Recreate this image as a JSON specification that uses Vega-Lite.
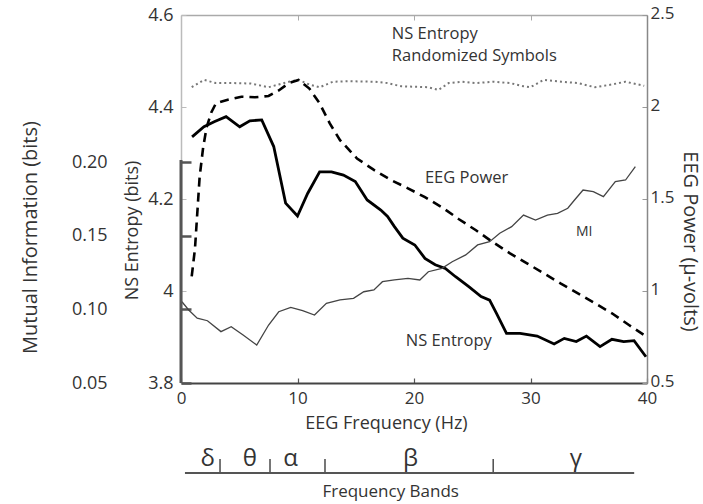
{
  "$schema": "https://vega.github.io/schema/vega-lite/v6.json",
  "width": 466,
  "height": 368,
  "autosize": "none",
  "padding": {"left": 181, "top": 15, "right": 56, "bottom": 121},
  "config": {
    "font": "Open Sans",
    "view": {"stroke": null},
    "axis": {"grid": false, "labelFont": "Open Sans", "titleFont": "Open Sans", "labelColor": "#333", "titleColor": "#333", "titleFontWeight": "normal", "labelFontSize": 18, "titleFontSize": 18, "labelFlush": false, "labelOverlap": false}
  },
  "datasets": {
    "ns": [
      {"f": 0.95, "v": 4.335}, {"f": 1.97, "v": 4.357}, {"f": 2.85, "v": 4.368}, {"f": 3.87, "v": 4.379}, {"f": 5.04, "v": 4.357}, {"f": 5.91, "v": 4.37}, {"f": 6.93, "v": 4.372}, {"f": 7.96, "v": 4.314}, {"f": 8.98, "v": 4.191}, {"f": 10.0, "v": 4.163}, {"f": 10.87, "v": 4.212}, {"f": 11.9, "v": 4.259}, {"f": 12.92, "v": 4.259}, {"f": 13.94, "v": 4.252}, {"f": 14.96, "v": 4.238}, {"f": 15.98, "v": 4.198}, {"f": 17.15, "v": 4.176}, {"f": 17.73, "v": 4.162}, {"f": 18.32, "v": 4.14}, {"f": 19.04, "v": 4.115}, {"f": 20.07, "v": 4.1}, {"f": 20.94, "v": 4.071}, {"f": 21.82, "v": 4.057}, {"f": 22.69, "v": 4.049}, {"f": 23.57, "v": 4.031}, {"f": 24.73, "v": 4.009}, {"f": 25.76, "v": 3.988}, {"f": 26.49, "v": 3.98}, {"f": 27.07, "v": 3.952}, {"f": 27.94, "v": 3.908}, {"f": 29.11, "v": 3.908}, {"f": 30.57, "v": 3.902}, {"f": 32.03, "v": 3.885}, {"f": 32.9, "v": 3.897}, {"f": 33.93, "v": 3.89}, {"f": 34.8, "v": 3.902}, {"f": 35.97, "v": 3.879}, {"f": 36.99, "v": 3.895}, {"f": 38.0, "v": 3.89}, {"f": 38.89, "v": 3.892}, {"f": 39.91, "v": 3.857}
    ],
    "rand": [
      {"f": 0.92, "v": 4.443}, {"f": 1.97, "v": 4.459}, {"f": 2.99, "v": 4.452}, {"f": 4.5, "v": 4.452}, {"f": 6.0, "v": 4.451}, {"f": 7.52, "v": 4.443}, {"f": 8.4, "v": 4.449}, {"f": 9.27, "v": 4.455}, {"f": 10.09, "v": 4.459}, {"f": 11.0, "v": 4.449}, {"f": 11.9, "v": 4.443}, {"f": 13.06, "v": 4.455}, {"f": 14.5, "v": 4.456}, {"f": 16.56, "v": 4.455}, {"f": 17.73, "v": 4.452}, {"f": 18.9, "v": 4.445}, {"f": 20.1, "v": 4.444}, {"f": 21.23, "v": 4.443}, {"f": 22.1, "v": 4.437}, {"f": 22.98, "v": 4.452}, {"f": 24.15, "v": 4.455}, {"f": 25.32, "v": 4.452}, {"f": 26.78, "v": 4.455}, {"f": 28.24, "v": 4.452}, {"f": 29.4, "v": 4.445}, {"f": 29.99, "v": 4.443}, {"f": 31.15, "v": 4.459}, {"f": 32.61, "v": 4.455}, {"f": 34.07, "v": 4.452}, {"f": 35.53, "v": 4.443}, {"f": 36.99, "v": 4.449}, {"f": 38.16, "v": 4.455}, {"f": 39.76, "v": 4.446}
    ],
    "power": [
      {"f": 0.92, "p": 1.08}, {"f": 1.2, "p": 1.23}, {"f": 1.6, "p": 1.62}, {"f": 1.9, "p": 1.78}, {"f": 2.2, "p": 1.89}, {"f": 2.6, "p": 1.97}, {"f": 3.0, "p": 2.02}, {"f": 4.02, "p": 2.04}, {"f": 5.18, "p": 2.056}, {"f": 6.35, "p": 2.053}, {"f": 7.52, "p": 2.06}, {"f": 8.39, "p": 2.09}, {"f": 9.27, "p": 2.13}, {"f": 10.09, "p": 2.147}, {"f": 11.02, "p": 2.1}, {"f": 11.9, "p": 2.02}, {"f": 12.77, "p": 1.911}, {"f": 13.65, "p": 1.82}, {"f": 15.11, "p": 1.72}, {"f": 16.56, "p": 1.658}, {"f": 18.02, "p": 1.603}, {"f": 19.48, "p": 1.558}, {"f": 20.94, "p": 1.51}, {"f": 22.4, "p": 1.455}, {"f": 23.86, "p": 1.39}, {"f": 25.32, "p": 1.33}, {"f": 26.78, "p": 1.265}, {"f": 28.24, "p": 1.205}, {"f": 29.7, "p": 1.15}, {"f": 31.15, "p": 1.096}, {"f": 32.61, "p": 1.04}, {"f": 34.07, "p": 0.987}, {"f": 35.53, "p": 0.933}, {"f": 36.99, "p": 0.879}, {"f": 38.45, "p": 0.815}, {"f": 39.76, "p": 0.76}
    ],
    "mi": [
      {"f": 0.08, "mi": 0.1052}, {"f": 0.66, "mi": 0.0996}, {"f": 1.39, "mi": 0.094}, {"f": 2.27, "mi": 0.0923}, {"f": 3.43, "mi": 0.0849}, {"f": 4.31, "mi": 0.0882}, {"f": 5.33, "mi": 0.0826}, {"f": 6.5, "mi": 0.0758}, {"f": 7.52, "mi": 0.0894}, {"f": 8.39, "mi": 0.0984}, {"f": 9.42, "mi": 0.1014}, {"f": 10.44, "mi": 0.0991}, {"f": 11.46, "mi": 0.0962}, {"f": 12.48, "mi": 0.1041}, {"f": 13.65, "mi": 0.1064}, {"f": 14.81, "mi": 0.1075}, {"f": 15.69, "mi": 0.112}, {"f": 16.56, "mi": 0.1132}, {"f": 17.29, "mi": 0.1188}, {"f": 18.32, "mi": 0.12}, {"f": 19.48, "mi": 0.1211}, {"f": 20.5, "mi": 0.12}, {"f": 21.23, "mi": 0.1256}, {"f": 22.4, "mi": 0.1279}, {"f": 23.28, "mi": 0.1324}, {"f": 24.44, "mi": 0.137}, {"f": 25.46, "mi": 0.1438}, {"f": 26.49, "mi": 0.146}, {"f": 27.36, "mi": 0.1517}, {"f": 28.38, "mi": 0.1562}, {"f": 29.4, "mi": 0.1641}, {"f": 30.43, "mi": 0.1607}, {"f": 31.45, "mi": 0.1641}, {"f": 32.32, "mi": 0.1653}, {"f": 33.2, "mi": 0.1687}, {"f": 33.78, "mi": 0.1743}, {"f": 34.51, "mi": 0.1811}, {"f": 35.39, "mi": 0.18}, {"f": 36.26, "mi": 0.1766}, {"f": 37.28, "mi": 0.1868}, {"f": 38.16, "mi": 0.1879}, {"f": 39.0, "mi": 0.197}
    ],
    "notes": [
      {"label": "EEG Power", "f": 20.94, "v": 4.235},
      {"label": "NS Entropy", "f": 19.3, "v": 3.88}
    ],
    "bands": [
      {"band": "δ", "mid": 2.3, "end": 3.35},
      {"band": "θ", "mid": 5.9, "end": 7.64},
      {"band": "α", "mid": 9.4, "end": 12.36},
      {"band": "β", "mid": 19.7, "end": 26.8},
      {"band": "γ", "mid": 33.9, "end": null}
    ]
  },
  "layer": [
    {
      "layer": [
        {
          "data": {"name": "rand"},
          "mark": {"type": "line", "color": "#777", "strokeWidth": 2, "strokeDash": [2, 3]},
          "encoding": {
            "x": {"field": "f", "type": "quantitative", "scale": {"domain": [0, 40], "nice": false},
              "axis": {"orient": "bottom", "values": [0, 10, 20, 30, 40], "labelFontSize": 17, "title": "EEG Frequency (Hz)", "titleX": 205, "titleY": 45, "titleBaseline": "alphabetic", "tickSize": -5, "labelPadding": 12, "domainColor": "#444", "domainWidth": 2, "tickColor": "#555", "tickWidth": 1.2}},
            "y": {"field": "v", "type": "quantitative", "scale": {"domain": [3.8, 4.6], "nice": false, "zero": false},
              "axis": {"orient": "left", "values": [3.8, 4, 4.2, 4.4, 4.6], "format": "~g", "title": "NS Entropy (bits)", "titleX": -49, "titleY": 215, "titleBaseline": "middle", "tickSize": -5, "labelPadding": 13, "domainColor": "#bbb", "domainWidth": 1.5, "tickColor": "#bbb"}}
          }
        },
        {
          "data": {"name": "ns"},
          "mark": {"type": "line", "color": "#000", "strokeWidth": 2.8},
          "encoding": {
            "x": {"field": "f", "type": "quantitative", "scale": {"domain": [0, 40], "nice": false}},
            "y": {"field": "v", "type": "quantitative"}
          }
        },
        {
          "data": {"name": "notes"},
          "mark": {"type": "text", "align": "left", "baseline": "alphabetic", "fontSize": 16.5, "color": "#333"},
          "encoding": {
            "x": {"field": "f", "type": "quantitative", "scale": {"domain": [0, 40], "nice": false}},
            "y": {"field": "v", "type": "quantitative"},
            "text": {"field": "label"}
          }
        },
        {
          "data": {"values": [{"label": "NS Entropy\nRandomized Symbols", "f": 18.1, "v": 4.547}]},
          "mark": {"type": "text", "align": "left", "baseline": "alphabetic", "fontSize": 16.5, "lineHeight": 22, "lineBreak": "\n", "color": "#333"},
          "encoding": {
            "x": {"field": "f", "type": "quantitative", "scale": {"domain": [0, 40], "nice": false}},
            "y": {"field": "v", "type": "quantitative"},
            "text": {"field": "label"}
          }
        },
        {
          "data": {"values": [{"label": "MI", "f": 33.9, "v": 4.12}]},
          "mark": {"type": "text", "align": "left", "baseline": "alphabetic", "fontSize": 14, "color": "#333"},
          "encoding": {
            "x": {"field": "f", "type": "quantitative", "scale": {"domain": [0, 40], "nice": false}},
            "y": {"field": "v", "type": "quantitative"},
            "text": {"field": "label"}
          }
        }
      ]
    },
    {
      "data": {"name": "power"},
      "mark": {"type": "line", "color": "#000", "strokeWidth": 2.6, "strokeDash": [9, 6]},
      "encoding": {
        "x": {"field": "f", "type": "quantitative", "scale": {"domain": [0, 40], "nice": false},
          "axis": {"orient": "top", "values": [10, 20, 30], "labels": false, "title": null, "tickSize": -5, "domainColor": "#aaa", "domainWidth": 1.5, "tickColor": "#aaa"}},
        "y": {"field": "p", "type": "quantitative", "scale": {"domain": [0.5, 2.5], "nice": false, "zero": false},
          "axis": {"orient": "right", "values": [0.5, 1, 1.5, 2, 2.5], "format": "~g", "labelFontSize": 17, "labelOffset": -2, "title": "EEG Power (µ-volts)", "titleFontSize": 20, "titleX": 42, "titleY": 226, "titleBaseline": "middle", "tickSize": -5, "labelPadding": 8, "domainColor": "#888", "domainWidth": 1.5, "tickColor": "#999"}}
      }
    },
    {
      "layer": [
        {
          "data": {"name": "mi"},
          "mark": {"type": "line", "color": "#444", "strokeWidth": 1.3},
          "encoding": {
            "x": {"field": "f", "type": "quantitative", "scale": {"domain": [0, 40], "nice": false}, "axis": null},
            "y": {"field": "mi", "type": "quantitative", "scale": {"domain": [0.05, 0.3], "nice": false, "zero": false},
              "axis": {"orient": "left", "values": [0.05, 0.1, 0.15, 0.2], "format": ".2f", "title": "Mutual Information (bits)", "titleFontSize": 20, "titleX": -151, "titleY": 222, "titleBaseline": "middle", "domain": false, "tickSize": -10, "tickWidth": 2.5, "tickColor": "#555", "labelPadding": 84}}
          }
        },
        {
          "data": {"values": [{}]},
          "mark": {"type": "rule", "color": "#555", "strokeWidth": 3},
          "encoding": {
            "x": {"datum": 0, "type": "quantitative", "scale": {"domain": [0, 40], "nice": false}},
            "y": {"datum": 0.05, "type": "quantitative"},
            "y2": {"datum": 0.2015}
          }
        }
      ]
    },
    {
      "layer": [
        {
          "data": {"name": "bands"},
          "mark": {"type": "text", "fontSize": 24, "baseline": "alphabetic", "color": "#333"},
          "encoding": {
            "x": {"field": "mid", "type": "quantitative", "scale": {"domain": [0, 40], "nice": false}, "axis": null},
            "y": {"datum": -0.9, "type": "quantitative", "scale": {"domain": [0, 4], "nice": false, "zero": false}, "axis": null},
            "text": {"field": "band"}
          }
        },
        {
          "data": {"name": "bands"},
          "transform": [{"filter": "datum.end != null"}],
          "mark": {"type": "rule", "color": "#555", "strokeWidth": 1.6},
          "encoding": {
            "x": {"field": "end", "type": "quantitative", "scale": {"domain": [0, 40], "nice": false}},
            "y": {"datum": -0.978, "type": "quantitative"},
            "y2": {"datum": -0.826}
          }
        },
        {
          "data": {"values": [{}]},
          "mark": {"type": "rule", "color": "#555", "strokeWidth": 2},
          "encoding": {
            "x": {"datum": 0.34, "type": "quantitative", "scale": {"domain": [0, 40], "nice": false}},
            "x2": {"datum": 38.9},
            "y": {"datum": -0.978, "type": "quantitative"}
          }
        },
        {
          "data": {"values": [{"label": "Frequency Bands"}]},
          "mark": {"type": "text", "fontSize": 17, "baseline": "middle", "color": "#333"},
          "encoding": {
            "x": {"datum": 18.0, "type": "quantitative", "scale": {"domain": [0, 40], "nice": false}},
            "y": {"datum": -1.185, "type": "quantitative"},
            "text": {"field": "label"}
          }
        }
      ]
    }
  ],
  "resolve": {"scale": {"y": "independent"}, "axis": {"x": "independent", "y": "independent"}}
}
